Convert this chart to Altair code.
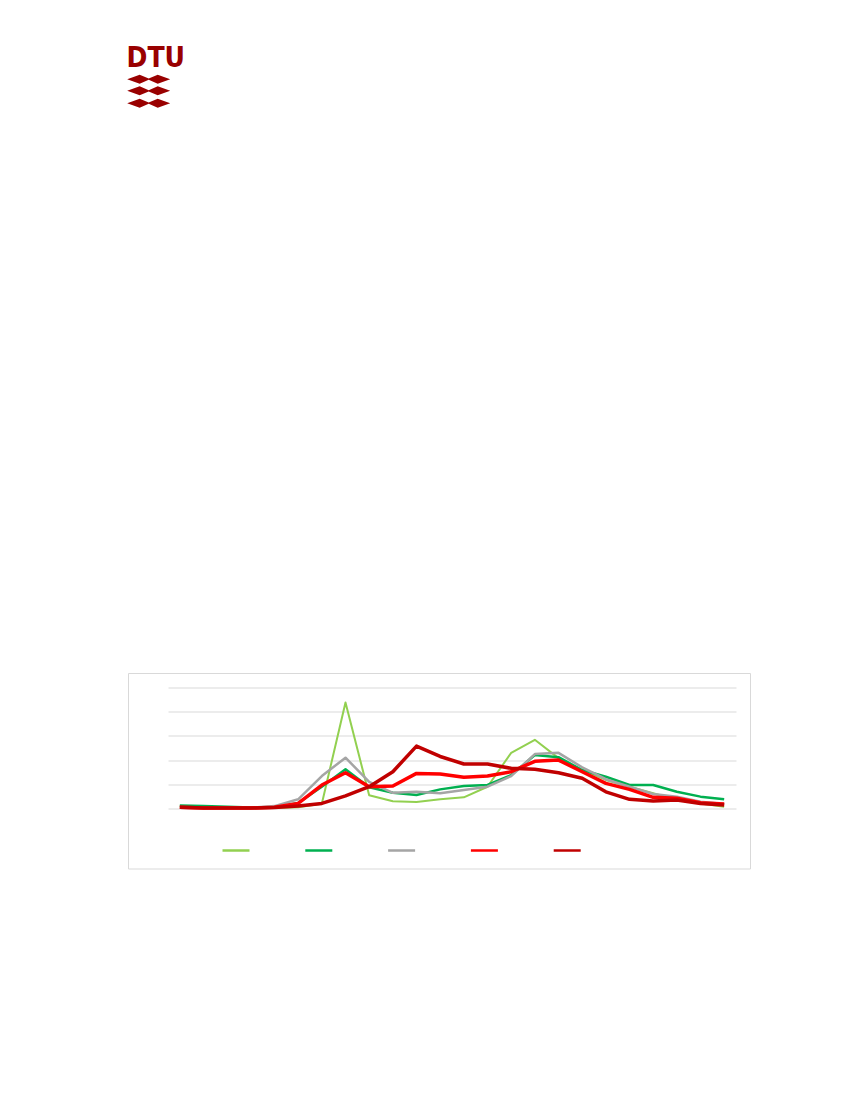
import altair as alt
import pandas as pd

hours = list(range(24))
series_names = ["Serie 1", "Serie 2", "Serie 3", "Serie 4", "Serie 5"]
series_colors = ["#92D050", "#00B050", "#A5A5A5", "#FF0000", "#C00000"]
series_widths = [2.0, 2.5, 2.5, 3.5, 3.5]

s1 = [0.5, 0.1, 0.1, 0.1, 0.1, 0.25, 1.0, 21.9, 2.75, 1.5, 1.35, 1.9, 2.3, 4.5, 11.5, 14.2, 10.4, 8.0, 5.9, 4.5, 3.15, 1.75, 1.05, 0.35]
s2 = [0.6, 0.5, 0.35, 0.2, 0.25, 1.15, 4.5, 8.1, 4.4, 3.25, 2.8, 3.95, 4.65, 4.85, 6.9, 11.05, 10.6, 7.95, 6.55, 4.85, 4.85, 3.45, 2.45, 1.9]
s3 = [0.25, 0.15, 0.15, 0.15, 0.5, 1.9, 6.7, 10.5, 5.5, 3.25, 3.45, 3.15, 3.8, 4.5, 6.7, 11.25, 11.5, 8.5, 6.05, 4.5, 3.0, 2.45, 1.4, 0.95]
s4 = [0.25, 0.1, 0.1, 0.1, 0.25, 1.05, 4.85, 7.4, 4.5, 4.65, 7.25, 7.15, 6.45, 6.7, 7.6, 9.75, 10.0, 7.6, 5.2, 3.95, 2.3, 2.1, 1.2, 0.95]
s5 = [0.25, 0.1, 0.1, 0.1, 0.2, 0.5, 1.05, 2.6, 4.5, 7.6, 12.9, 10.75, 9.2, 9.2, 8.3, 8.1, 7.4, 6.25, 3.45, 1.9, 1.55, 1.75, 1.05, 0.7]
grid_values = [0, 5, 10, 15, 20, 25]

rows = []
for name, vals in zip(series_names, [s1, s2, s3, s4, s5]):
    for h, v in zip(hours, vals):
        rows.append({"hour": h, "value": v, "series": name})
df = pd.DataFrame(rows)

DARK_RED = "#990000"
one = pd.DataFrame({"a": [0]})

leg = alt.Legend(
    orient="none", legendX=53, legendY=148, direction="horizontal",
    symbolType="stroke", symbolSize=729, symbolStrokeWidth=2.5,
    labelExpr="''", labelOffset=0,
    columnPadding=44.8, title=None, padding=0,
)

x_enc = alt.X("hour:Q", scale=alt.Scale(domain=[-0.5, 23.5], nice=False, zero=False), axis=None)
y_enc = alt.Y("value:Q", scale=alt.Scale(domain=[0, 25], nice=False),
              axis=alt.Axis(values=grid_values, grid=True, gridColor="#D9D9D9", gridWidth=1,
                            labels=False, ticks=False, domain=False, title=None))
color_enc = alt.Color("series:N", scale=alt.Scale(domain=series_names, range=series_colors), legend=leg)

line_layers = []
for name, w in zip(series_names, series_widths):
    line_layers.append(
        alt.Chart(df).transform_filter(alt.datum.series == name)
        .mark_line(strokeWidth=w, strokeJoin="round", strokeCap="butt")
        .encode(x=x_enc, y=y_enc, color=color_enc, order=alt.Order("hour:Q"))
    )

frame = alt.Chart(one).mark_rect(fillOpacity=0, stroke="#D9D9D9", strokeWidth=1).encode(
    x=alt.value(-39.5), x2=alt.value(582.5), y=alt.value(-14), y2=alt.value(181.5)
)

logo_text = alt.Chart(one).mark_text(
    text="DTU", font="DejaVu Sans Condensed, Liberation Sans, sans-serif",
    fontWeight="bold", fontSize=28,
    align="left", baseline="alphabetic", color=DARK_RED
).encode(x=alt.value(-41.5), y=alt.value(-620.8))

wave = "M-1,0 L-0.42,-0.21 L0,-0.03 L0.42,-0.21 L1,0 L0.42,0.21 L0,0.03 L-0.42,0.21 Z"
waves = []
for yy in [-608.3, -596.7, -584.3]:
    waves.append(
        alt.Chart(one).mark_point(shape=wave, filled=True, size=1849, color=DARK_RED, opacity=1, strokeWidth=0)
        .encode(x=alt.value(-19.3), y=alt.value(yy))
    )

chart = alt.layer(frame, *line_layers, logo_text, *waves).properties(
    width=568, height=121,
    padding={"left": 160, "top": 679.5, "right": 100, "bottom": 250},
    autosize="none",
).configure_view(stroke=None)

chart.save("out.html", embed_options={"renderer": "svg", "actions": False})
